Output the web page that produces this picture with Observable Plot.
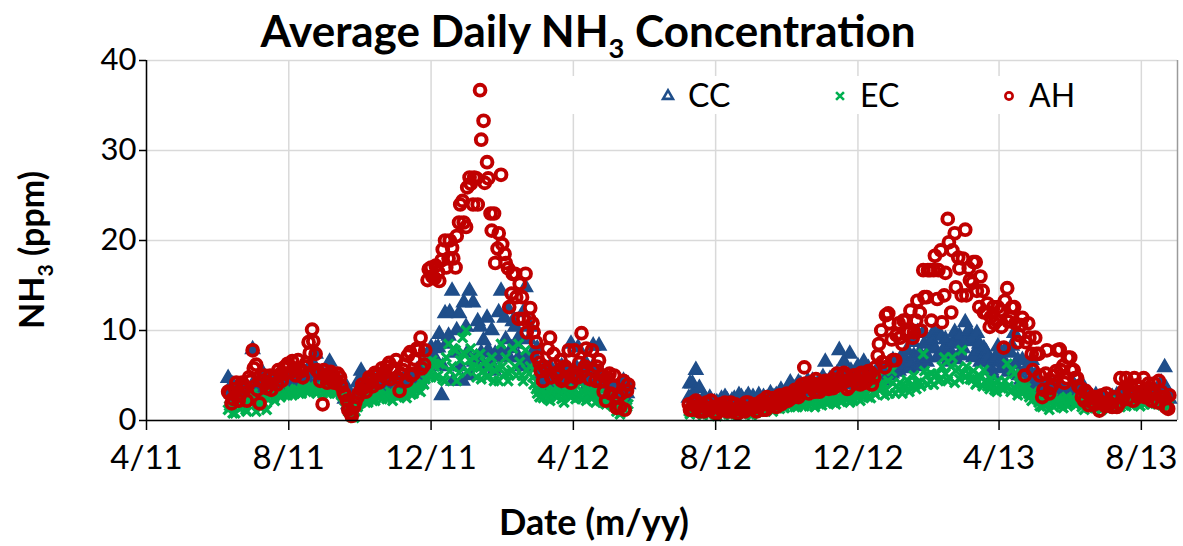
<!DOCTYPE html>
<html><head><meta charset="utf-8">
<script src="https://cdn.jsdelivr.net/npm/d3@7"></script>
<script src="https://cdn.jsdelivr.net/npm/@observablehq/plot@0.6"></script>
<style>body{margin:0;background:#fff;} #chart{width:1183px;height:546px;}</style>
</head><body><div id="chart"></div>
<script>
// ---- data: daily averages; "a" arrays = days 0,3,6,... "b" arrays = days 1,4,7,... ----
const seg1Start = "2011-06-10";
const seg2Start = "2012-07-09";
const stepDays = 3;

const cc1 = [4.7,3.0,2.6,3.3,2.2,3.6,3.0,7.9,4.0,3.2, 5.2,4.0,3.6,4.2,3.8,4.5,4.0,4.8,3.6,4.4, 4.0,4.5,5.0,4.2,6.5,7.4,5.2,4.6,3.8,6.5, 5.0,4.2,3.8,3.0,3.6,1.5,2.0,4.2,5.5,4.6, 4.0,3.5,4.4,3.2,4.6,3.8,4.2,3.4,4.8,3.6, 4.5,3.2,5.0,4.0,5.6,4.2,5.9,6.0,8.1,7.0, 8.1,2.8,11.9,9.4,14.4,7.5,11.9,4.4,10.4,14.4, 13.1,7.0,10.4,8.9,11.4,6.5,5.5,7.0,14.4,11.4, 12.4,8.0,10.4,7.0,6.0,14.8,9.0,7.5,6.0,5.0, 5.5,4.0,6.0,4.5,5.0,3.6,4.8,3.2,8.5,4.4, 8.1,5.0,6.5,4.2,5.8,3.8,8.3,5.0,4.0,3.5, 3.0,2.5,2.0,4.4,3.0];
const cc1b = [3.5,4.0,2.4,3.8,2.8,3.4,2.6,4.2,3.0,4.6, 3.4,4.6,3.0,3.8,4.2,3.6,4.8,3.8,4.4,3.9, 4.6,3.8,4.4,5.6,5.2,4.4,3.8,5.0,4.4,5.2, 4.0,4.6,3.4,2.4,1.8,1.2,2.6,3.5,4.8,4.0, 3.6,4.2,3.8,4.6,3.4,4.0,3.6,4.4,3.8,4.2, 3.8,4.6,4.2,3.6,5.0,4.8,5.2,7.5,6.5,8.0, 9.6,6.0,8.5,12.0,4.4,10.0,6.0,13.1,7.5,5.0, 6.5,11.0,7.5,6.0,7.8,10.0,7.4,12.0,7.8,9.0, 7.0,11.0,8.5,9.4,12.0,7.0,10.4,6.5,8.0,4.5, 4.6,5.5,3.8,5.2,4.2,6.0,4.0,5.4,4.6,6.0, 4.5,6.0,3.6,5.5,8.3,4.4,5.0,3.6,4.6,2.8, 3.6,2.2,3.0,2.6,4.0];
const ec1 = [1.2,1.8,0.8,2.0,1.5,1.2,2.5,3.0,1.0,1.8, 2.0,1.2,2.8,2.5,3.0,2.6,3.2,2.8,3.3,3.0, 3.4,3.0,3.5,3.2,3.8,3.3,3.6,3.0,3.4,3.2, 3.5,3.0,3.2,2.6,2.0,0.5,0.3,1.5,2.0,2.4, 2.0,2.5,2.2,2.8,2.4,3.0,2.6,2.2,3.0,2.8, 3.0,2.5,3.3,3.0,3.6,3.2,4.0,6.5,4.8,6.0, 5.0,6.3,4.4,8.5,6.0,7.8,5.3,9.2,10.0,6.7, 5.9,4.8,7.4,5.5,4.8,6.0,4.4,5.9,8.5,5.2, 4.4,5.6,6.0,8.5,5.0,7.8,5.2,4.8,3.5,2.6, 2.5,3.0,2.2,3.4,2.6,3.0,2.0,3.2,2.6,3.5, 3.0,2.4,3.6,2.8,3.2,2.0,3.0,2.6,1.8,2.5, 1.6,1.0,0.7,2.0,1.5];
const ec1b = [1.6,0.8,2.2,1.3,2.4,1.0,2.0,2.6,2.2,1.4, 2.6,2.4,3.0,2.2,3.2,2.8,3.0,3.4,2.8,3.5, 3.0,3.6,3.2,3.8,3.4,3.0,3.4,3.8,3.0,3.6, 3.2,3.4,2.8,2.2,1.0,0.4,1.0,1.8,2.4,2.0, 2.6,2.2,3.0,2.6,2.8,2.4,3.2,2.8,2.6,3.2, 2.8,3.4,2.9,3.8,3.4,4.2,4.6,5.2,6.7,4.8, 6.3,4.6,7.0,5.5,8.0,4.4,6.7,7.5,5.5,8.0, 7.0,5.9,4.6,6.5,5.8,7.0,5.5,4.4,6.0,7.0, 5.2,8.0,5.0,6.5,4.4,5.6,6.0,4.0,3.0,3.2, 3.0,2.4,3.2,2.8,3.6,2.4,3.4,2.8,3.0,2.4, 2.6,3.2,2.2,3.4,2.6,3.0,2.2,2.0,2.8,1.8, 2.2,1.4,1.0,1.2,1.8];
const ah1 = [3.2,1.9,3.5,2.2,4.2,3.6,4.8,7.8,6.2,1.9, 4.4,3.6,5.0,4.6,4.0,5.2,5.9,6.3,5.4,5.8, 6.7,5.5,6.0,8.7,10.1,7.4,5.3,1.8,5.0,4.6, 5.0,4.4,4.8,3.1,2.2,0.8,1.5,2.6,3.4,3.7, 4.0,4.6,5.3,4.2,5.8,4.8,6.4,5.5,6.7,3.3, 5.6,4.4,7.6,5.2,8.0,9.2,6.2,15.6,17.0,15.8, 16.5,17.8,20.0,18.0,19.2,17.0,22.0,24.4,21.5,27.0, 24.0,26.9,36.7,33.3,28.7,23.0,23.0,19.1,27.3,18.5, 16.9,14.1,16.3,11.3,13.7,16.3,11.3,10.8,8.7,6.4, 4.4,5.6,9.2,7.4,5.0,6.7,4.6,5.6,4.2,7.8, 4.8,9.7,6.0,6.7,7.8,4.4,6.7,5.0,2.2,5.2, 3.9,1.4,1.5,4.4,3.3];
const ah1b = [3.0,2.4,4.2,2.8,3.8,2.2,4.4,5.8,3.4,4.4, 5.0,4.2,3.4,4.8,5.6,4.4,5.2,6.0,6.6,5.0, 5.8,4.8,6.4,7.5,8.8,5.6,4.4,5.6,4.2,5.4, 4.2,5.2,3.8,2.8,1.2,0.5,2.0,3.0,4.0,3.2, 4.8,3.8,5.0,4.4,5.2,6.0,4.6,5.8,4.8,5.2, 6.2,7.2,5.0,6.8,7.8,5.8,7.8,16.8,16.0,17.2, 15.5,19.0,17.0,20.0,18.0,20.5,24.0,22.0,25.9,26.3, 27.0,24.0,31.2,26.4,26.9,21.1,17.5,20.8,19.6,17.5, 12.6,16.3,13.7,15.2,11.3,9.8,12.5,9.8,7.0,5.5, 6.0,8.0,4.8,6.2,5.4,4.4,6.0,7.8,5.0,4.8, 6.4,5.4,8.0,4.6,5.6,6.0,4.4,3.2,4.8,3.0, 5.0,2.6,3.0,1.2,4.0];

const cc2 = [2.5,4.1,5.6,3.6,2.2,1.8,2.5,1.6,2.0,1.5, 1.8,2.2,1.5,2.4,1.8,2.6,2.0,2.8,2.2,1.6, 2.8,2.2,1.8,2.5,2.0,2.8,3.0,2.5,3.2,4.2, 3.6,3.0,4.0,3.2,4.4,3.5,3.8,4.2,4.0,6.5, 3.8,4.5,4.0,7.8,4.2,5.0,7.4,4.4,3.8,5.0, 6.5,4.5,5.0,3.8,5.5,5.0,4.6,6.3,5.2,6.0, 5.5,7.0,6.7,5.8,8.7,6.0,7.5,9.7,6.5,8.0, 9.8,7.0,9.4,8.0,6.5,7.5,9.8,8.5,7.2,10.9, 10.0,9.0,7.6,8.5,6.5,7.6,6.0,5.0,7.0,6.5, 6.5,6.0,7.5,9.7,6.7,4.5,5.5,4.0,6.7,5.0, 3.5,2.5,4.0,3.0,2.2,3.5,2.6,3.2,2.0,3.6, 4.0,3.0,2.4,3.6,2.0,2.5,1.8,2.2,1.5,2.5, 2.0,2.6,1.8,2.2,3.0,2.4,2.8,2.0,3.2,2.6, 3.0,2.4,3.4,2.8,3.5,4.2,5.9,3.0];
const cc2b = [4.1,3.0,2.4,1.8,2.6,1.5,2.2,2.0,1.4,2.4, 2.6,1.6,2.2,1.8,2.8,1.6,2.4,1.9,2.6,2.2, 2.2,2.6,2.4,3.0,2.6,2.2,3.4,2.8,3.6,3.0, 3.2,4.2,3.6,3.0,3.8,4.4,3.2,3.8,4.8,4.2, 4.6,3.6,5.2,4.4,6.5,4.0,5.5,4.8,6.0,4.6, 5.2,5.8,4.2,5.0,6.0,4.4,5.5,5.0,6.7,5.4, 6.8,6.0,7.8,6.4,7.2,9.8,6.2,8.5,7.0,9.0, 8.0,9.7,7.2,9.0,7.8,8.6,6.8,9.4,8.0,9.0, 8.8,7.0,9.7,6.5,8.0,7.0,5.6,6.8,8.2,5.8, 7.8,5.4,8.3,6.2,5.0,6.7,4.2,5.6,4.6,3.8, 3.0,3.8,2.6,3.4,4.0,2.4,3.8,2.2,3.0,2.6, 3.2,3.7,2.6,2.2,3.0,1.8,2.8,2.0,2.6,2.0, 2.4,2.0,2.8,2.4,2.0,3.2,2.2,2.6,2.4,3.0, 2.6,3.2,2.2,3.0,2.4,3.0,3.6,2.4];
const ec2 = [1.0,1.5,0.8,1.2,0.6,1.0,0.8,1.3,0.5,1.0, 0.8,1.2,0.6,1.0,0.7,1.3,0.9,1.1,0.6,1.2, 1.0,1.4,1.2,1.6,1.0,1.8,1.3,1.5,2.0,1.6, 1.8,1.5,2.0,1.6,2.2,1.8,1.5,2.0,1.7,2.2, 2.0,2.3,1.8,2.5,2.2,2.6,2.0,2.4,2.8,2.2, 2.6,3.0,2.5,3.2,4.8,3.5,2.8,4.4,5.5,3.0, 3.5,3.0,3.8,3.2,4.0,3.5,4.2,7.4,5.0,4.4, 4.0,5.2,4.6,7.0,4.4,6.0,4.2,5.8,7.8,4.8, 5.2,4.5,4.0,5.0,3.8,4.4,3.5,4.0,3.2,3.8, 3.5,6.3,3.2,5.2,2.8,3.4,4.0,3.0,2.2,2.8, 2.0,1.5,2.2,1.2,2.5,1.8,2.2,1.4,2.6,2.0, 2.4,1.8,2.0,1.2,1.6,2.0,1.4,1.8,1.2,1.5, 1.6,2.0,1.4,1.8,2.2,1.6,2.0,1.8,2.4,1.6, 2.0,2.4,1.8,2.2,2.6,2.0,1.8,1.5];
const ec2b = [0.7,1.1,1.4,0.9,1.1,0.7,1.2,0.8,1.0,1.4, 1.1,0.7,1.3,0.8,1.2,0.9,1.4,0.7,1.2,0.9, 1.3,1.0,1.6,1.3,1.7,1.4,1.9,1.4,1.7,2.0, 1.5,2.0,1.7,2.2,1.6,2.0,2.2,1.8,2.3,1.9, 2.4,2.0,2.6,2.1,2.8,2.4,2.2,2.9,2.5,3.0, 3.0,2.6,3.6,2.9,3.8,4.2,3.4,3.0,4.2,3.8, 4.2,3.6,4.5,3.8,5.0,4.2,3.8,5.5,4.0,5.2, 5.0,4.4,6.0,5.2,4.8,7.0,5.5,4.6,5.2,6.0, 4.6,5.5,4.2,4.8,5.6,3.8,4.6,3.4,4.4,3.6, 4.4,3.8,5.6,3.5,4.2,3.0,3.6,2.6,3.2,2.4, 1.6,2.4,1.8,2.0,1.5,2.4,1.7,2.2,1.6,2.4, 1.8,2.2,1.5,1.9,1.4,1.7,1.9,1.5,1.8,1.4, 2.0,1.7,2.2,1.5,1.9,2.2,1.7,2.4,2.0,2.2, 1.8,2.2,2.6,1.9,2.2,1.7,2.4,1.9];
const ah2 = [1.8,1.2,2.2,1.0,1.6,2.0,1.2,1.5,0.8,1.8, 1.5,1.0,2.0,1.2,0.8,1.6,1.0,2.0,1.3,1.8, 1.5,2.2,1.2,1.8,2.5,1.5,2.8,2.0,3.0,2.4, 2.6,3.0,3.5,5.9,3.8,4.2,3.2,4.0,3.6,4.4, 3.5,4.6,3.8,4.2,5.0,4.4,3.8,5.0,4.6,4.0, 5.0,4.5,5.3,4.8,7.2,10.0,5.9,11.9,9.0,6.7, 10.8,8.5,11.1,9.8,9.2,11.1,12.0,16.7,13.7,16.7, 16.7,13.5,18.9,13.9,22.4,12.0,20.8,18.1,13.9,21.2, 16.9,15.3,17.6,12.6,14.4,12.0,10.4,12.6,11.1,12.2, 8.1,14.7,11.4,12.6,8.7,10.6,5.0,10.8,7.4,9.2, 7.4,2.6,5.2,3.0,4.0,5.5,7.9,6.1,4.7,7.0, 5.6,4.7,3.6,2.2,3.0,2.5,1.8,2.2,2.8,1.6, 2.0,1.5,2.5,1.9,3.0,4.7,3.3,2.2,3.9,2.8, 4.7,2.6,3.5,4.1,2.0,3.2,2.6,1.3];
const ah2b = [1.2,2.0,1.4,1.8,1.0,1.4,2.2,0.9,1.6,1.2, 2.0,1.4,1.0,1.8,1.4,1.1,2.0,1.3,1.6,1.0, 2.0,1.2,2.6,1.6,2.0,2.6,1.8,2.6,2.2,3.0, 3.4,2.6,4.0,4.1,3.0,3.7,4.6,3.2,4.2,3.8, 4.2,3.6,5.2,4.0,5.3,3.5,4.6,5.0,4.2,5.3, 4.2,5.5,4.0,5.9,8.5,6.5,11.7,10.8,6.7,9.5, 9.2,11.1,10.0,12.2,9.8,13.3,10.0,13.7,16.7,11.1, 18.3,16.7,10.9,16.4,19.8,18.9,14.8,16.9,18.0,13.9, 15.6,17.6,14.4,16.0,12.0,13.0,11.5,10.8,12.6,10.4, 13.3,11.0,12.6,10.8,9.5,11.4,8.7,9.2,5.6,7.4, 5.0,3.4,7.8,3.6,5.0,7.8,5.6,4.2,7.0,5.6, 4.7,3.8,2.6,3.3,1.7,2.0,2.6,1.1,2.0,3.0, 1.9,2.6,1.5,4.7,3.3,2.4,3.9,4.7,2.6,3.2, 2.6,4.1,2.2,3.0,4.4,2.6,1.5,2.8];

const seriesNames = ["CC", "EC", "AH"];
const xDomain = ["2011-04-01", "2013-09-01"];
const xTicks = ["2011-04-01","2011-08-01","2011-12-01","2012-04-01","2012-08-01","2012-12-01","2013-04-01","2013-08-01"];
const xTickLabels = ["4/11","8/11","12/11","4/12","8/12","12/12","4/13","8/13"];
const yTicks = [0, 10, 20, 30, 40];

// ---- build rows ----
function rows(start, values, offset) {
  const s = new Date(start + "T00:00:00Z");
  return values.map((v, i) => ({date: d3.utcDay.offset(s, i * stepDays + offset), v}));
}
function series(a1, b1, a2, b2) {
  return [].concat(rows(seg1Start, a1, 0), rows(seg1Start, b1, 1), rows(seg2Start, a2, 0), rows(seg2Start, b2, 1))
    .sort((p, q) => p.date - q.date);
}
const ccRows = series(cc1, cc1b, cc2, cc2b);
const ecRows = series(ec1, ec1b, ec2, ec2b);
const ahRows = series(ah1, ah1b, ah2, ah2b);

const toDate = s => new Date(s + "T00:00:00Z");
const tickDates = xTicks.map(toDate);
const labelMap = new Map(tickDates.map((d, i) => [+d, xTickLabels[i]]));
const dom = xDomain.map(toDate);

const BLUE = "#1f4e8a", GREEN = "#00b050", RED = "#c00000", GRID = "#d9d9d9";
const FONT = "Lato, 'Open Sans', sans-serif";

const chart = Plot.plot({
  width: 1183, height: 546,
  marginLeft: 146, marginRight: 6, marginTop: 60, marginBottom: 126,
  style: {fontFamily: FONT, background: "#fff", color: "#000"},
  x: {type: "utc", domain: dom},
  y: {domain: [0, 40]},
  marks: [
    Plot.gridX(tickDates, {stroke: GRID, strokeOpacity: 1, strokeWidth: 1.5}),
    Plot.gridY(yTicks, {stroke: GRID, strokeOpacity: 1, strokeWidth: 1.5}),
    Plot.ruleX([dom[1]], {stroke: "#9a9a9a", strokeWidth: 1.5}),
    Plot.dot(ccRows, {x: "date", y: "v", symbol: "triangle", r: 5.2, fill: BLUE, stroke: BLUE, strokeWidth: 1.6}),
    Plot.dot(ecRows, {x: "date", y: "v", symbol: "times", r: 4.3, stroke: GREEN, strokeWidth: 3.3}),
    Plot.dot(ahRows, {x: "date", y: "v", symbol: "circle", r: 5.4, stroke: RED, strokeWidth: 3.9, fill: "none"}),
    Plot.ruleY([0], {stroke: "#000", strokeWidth: 1.5}),
    Plot.ruleX([dom[0]], {stroke: "#000", strokeWidth: 1.5}),
    Plot.axisX(tickDates, {tickFormat: d => labelMap.get(+d), tickSize: 10, tickPadding: 15, fontSize: 33, label: null, stroke: "#000", strokeWidth: 1.5}),
    Plot.axisY(yTicks, {tickSize: 7, tickPadding: 3, fontSize: 31, label: null, stroke: "#000", strokeWidth: 1.5})
  ]
});
document.getElementById("chart").appendChild(chart);

// ---- titles, axis labels, legend ----
const svg = d3.select(chart);
function richText(parent, x, y, parts, size, anchor, transform) {
  const t = parent.append("text").attr("x", x).attr("y", y)
    .attr("font-family", FONT).attr("font-weight", "bold").attr("font-size", size)
    .attr("text-anchor", anchor).attr("fill", "#000");
  if (transform) t.attr("transform", transform);
  let lowered = false;
  parts.forEach(([s, sub]) => {
    const ts = t.append("tspan").text(s);
    if (sub && !lowered) { ts.attr("font-size", size * 0.62).attr("dy", size * 0.25); lowered = true; }
    else if (!sub && lowered) { ts.attr("dy", -size * 0.25); lowered = false; }
  });
  return t;
}
richText(svg, 588, 47, [["Average Daily NH"], ["3", true], [" Concentration"]], 44, "middle");
richText(svg, 0, 0, [["NH"], ["3", true], [" (ppm)"]], 34, "middle", "translate(44,250) rotate(-90)");
richText(svg, 594, 535, [["Date (m/yy)"]], 36, "middle");

// legend (white box hides grid behind it)
const lg = svg.append("g");
lg.append("rect").attr("x", 560).attr("y", 76).attr("width", 550).attr("height", 38).attr("fill", "#fff");
const items = [
  {name: seriesNames[0], sx: 668, tx: 688, sym: d3.symbolTriangle, color: BLUE},
  {name: seriesNames[1], sx: 840, tx: 860, sym: d3.symbolTimes, color: GREEN},
  {name: seriesNames[2], sx: 1009, tx: 1029, sym: d3.symbolCircle, color: RED}
];
items.forEach(it => {
  const p = lg.append("path").attr("d", d3.symbol(it.sym, 42)())
    .attr("transform", `translate(${it.sx},96)`);
  if (it.sym === d3.symbolTriangle) p.attr("fill", "#fff").attr("stroke", it.color).attr("stroke-width", 2.6);
  else p.attr("fill", "none").attr("stroke", it.color).attr("stroke-width", 2.6);
  lg.append("text").attr("x", it.tx).attr("y", 107).attr("text-anchor", "start")
    .attr("font-family", FONT).attr("font-size", 32).attr("fill", "#000").text(it.name);
});
</script>
</body></html>
